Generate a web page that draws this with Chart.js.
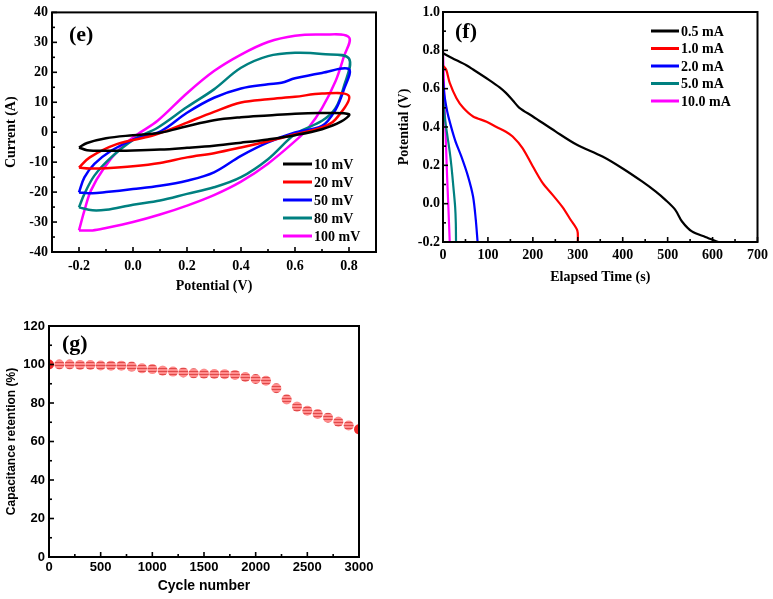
<!DOCTYPE html>
<html>
<head>
<meta charset="utf-8">
<script src="https://cdn.jsdelivr.net/npm/chart.js@4.4.1/dist/chart.umd.min.js"></script>
<style>
  html, body { margin: 0; padding: 0; background: #fff; }
  #wrap { position: relative; width: 773px; height: 599px; }
  canvas { position: absolute; }
</style>
</head>
<body>
<div id="wrap">
  <canvas id="cv" width="390" height="300" style="left:0;top:0"></canvas>
  <canvas id="gcd" width="383" height="300" style="left:390px;top:0"></canvas>
  <canvas id="cyc" width="390" height="299" style="left:0;top:300px"></canvas>
</div>
<script>
// (e) cyclic voltammetry loops: [potential V, current A]
const cvLabels = ['10 mV', '20 mV', '50 mV', '80 mV', '100 mV'];
const cv10 = [[-0.2,-5.1],[-0.17,-3.6],[-0.1,-2.0],[0,-1.0],[0.1,-0.2],[0.2,2.0],[0.3,4.0],[0.4,5.0],[0.5,5.6],[0.6,6.2],[0.7,6.4],[0.8,6.0],
  [0.77,3.5],[0.7,1.0],[0.6,-1.0],[0.5,-2.4],[0.4,-3.5],[0.3,-4.5],[0.2,-5.2],[0.1,-5.8],[0,-6.1],[-0.1,-6.2],[-0.17,-6.0],[-0.2,-5.1]];
const cv20 = [[-0.2,-11.8],[-0.16,-8.4],[-0.06,-4.0],[0.07,-1.2],[0.14,1.0],[0.2,3.2],[0.3,6.8],[0.4,9.9],[0.5,11.0],[0.6,11.8],[0.7,12.9],[0.8,12.1],
  [0.75,4.3],[0.7,1.6],[0.6,-0.7],[0.5,-3.0],[0.4,-5.1],[0.3,-7.0],[0.2,-8.4],[0.1,-10.3],[0,-11.4],[-0.1,-12.0],[-0.16,-12.1],[-0.2,-11.8]];
const cv50 = [[-0.2,-20.1],[-0.18,-15.1],[-0.143,-10.6],[-0.081,-6.2],[0.005,-2.3],[0.104,0.4],[0.2,6.5],[0.3,11.5],[0.4,14.6],[0.5,16.0],[0.55,16.5],[0.6,18.0],[0.7,19.8],[0.8,21.0],
  [0.78,14.0],[0.75,7.5],[0.7,2.1],[0.6,-0.1],[0.5,-3.4],[0.4,-7.9],[0.3,-13.4],[0.2,-16.2],[0.1,-17.9],[0,-19.0],[-0.1,-20.0],[-0.15,-20.4],[-0.2,-20.1]];
const cv80 = [[-0.2,-25.1],[-0.18,-20.6],[-0.143,-14.5],[-0.081,-8.4],[0.005,-2.3],[0.091,1.5],[0.2,8.4],[0.3,14.3],[0.4,21.5],[0.5,25.4],[0.6,26.5],[0.7,26.1],[0.8,24.6],
  [0.78,15.0],[0.75,8.0],[0.7,3.8],[0.6,-0.7],[0.5,-9.0],[0.4,-15.0],[0.3,-18.4],[0.2,-20.6],[0.1,-22.8],[0,-24.2],[-0.1,-25.9],[-0.15,-26.1],[-0.2,-25.1]];
const cv100 = [[-0.2,-32.8],[-0.18,-26.2],[-0.156,-19.5],[-0.106,-11.8],[-0.044,-5.1],[0.017,-0.7],[0.091,3.8],[0.2,13.0],[0.3,20.4],[0.4,25.9],[0.5,30.1],[0.6,32.2],[0.7,32.6],[0.8,31.7],
  [0.78,25.0],[0.75,17.0],[0.7,8.0],[0.65,1.5],[0.6,-3.0],[0.5,-10.5],[0.4,-16.5],[0.3,-21.0],[0.2,-24.5],[0.1,-27.5],[0,-30.0],[-0.1,-32.0],[-0.15,-32.8],[-0.2,-32.8]];
const cvXTicks = [-0.2, 0, 0.2, 0.4, 0.6, 0.8];

// (f) discharge curves: [time s, potential V]
const gcdLabels = ['0.5 mA', '1.0 mA', '2.0 mA', '5.0 mA', '10.0 mA'];
const gcd05 = [[0,0.785],[20,0.76],[52,0.722],[67,0.70],[103,0.645],[126,0.607],[140,0.578],[155,0.54],[170,0.50],[200,0.455],[251,0.376],[296,0.31],
  [355,0.246],[399,0.185],[443,0.116],[473,0.064],[495,0.02],[517,-0.032],[532,-0.093],[554,-0.145],[584,-0.174],[613,-0.2]];
const gcd10 = [[0,0.72],[7,0.70],[15,0.63],[30,0.55],[45,0.50],[67,0.455],[97,0.428],[119,0.40],[140,0.375],[155,0.35],[177,0.29],[200,0.194],
  [222,0.107],[244,0.046],[266,-0.018],[284,-0.084],[299,-0.141],[300,-0.2]];
const gcd20 = [[0,0.65],[3,0.57],[7,0.51],[12,0.454],[27,0.33],[41,0.245],[56,0.14],[67,0.036],[73,-0.085],[77,-0.2]];
const gcd50 = [[0,0.62],[2,0.5],[5,0.43],[10,0.35],[15,0.27],[19,0.19],[23,0.09],[27,-0.016],[28.5,-0.1],[29,-0.2]];
const gcd100 = [[0,0.8],[3,0.55],[6,0.35],[9,0.15],[12,-0.02],[15,-0.2]];

// (g) cycling stability
const cycles = [0,100,200,300,400,500,600,700,800,900,1000,1100,1200,1300,1400,1500,1600,1700,1800,1900,2000,
  2100,2200,2300,2400,2500,2600,2700,2800,2900,3000];
const retention = [100,100,100,99.8,99.7,99.5,99.4,99.4,98.9,98.0,97.6,96.8,96.3,95.9,95.4,95.2,95.1,95.0,94.6,93.5,92.5,
  91.6,87.7,81.9,78.1,76.0,74.3,72.4,70.3,68.3,66.3];

const colors = ['#000000', '#ff0000', '#0000ff', '#008080', '#ff00ff'];
const SERIF = '"Liberation Serif", "Times New Roman", serif';
const SANS = '"Liberation Sans", Arial, sans-serif';

Chart.defaults.color = '#000';
Chart.defaults.animation = false;

const pts = arr => arr.map(p => ({ x: p[0], y: p[1] }));
const fix1 = v => (Math.abs(v) < 1e-9 ? 0 : v).toFixed(1);

// box, inward ticks, panel tag and line legend
const decor = {
  id: 'decor',
  afterDraw(chart, args, o) {
    const { ctx, chartArea: a, scales } = chart;
    ctx.save();
    ctx.strokeStyle = '#000';
    ctx.lineWidth = 2;
    ctx.strokeRect(a.left, a.top, a.right - a.left, a.bottom - a.top);
    ctx.lineWidth = 1.6;
    for (const id of ['x', 'y']) {
      const s = scales[id], t = o[id];
      const n = Math.round((s.max - s.min) / t.minor);
      for (let i = 0; i <= n; i++) {
        const v = s.min + i * t.minor;
        const r = v / t.major;
        const len = Math.abs(r - Math.round(r)) < 1e-6 ? 5 : 3;
        const p = s.getPixelForValue(v);
        ctx.beginPath();
        if (id === 'x') { ctx.moveTo(p, a.bottom); ctx.lineTo(p, a.bottom - len); }
        else { ctx.moveTo(a.left, p); ctx.lineTo(a.left + len, p); }
        ctx.stroke();
      }
    }
    ctx.fillStyle = '#000';
    ctx.font = 'bold 22px ' + SERIF;
    ctx.textBaseline = 'middle';
    ctx.fillText(o.tag.text, o.tag.x, o.tag.y);
    if (o.legend) {
      const L = o.legend;
      ctx.font = 'bold 14px ' + SERIF;
      chart.data.datasets.forEach((d, i) => {
        const y = L.y + i * L.gap;
        ctx.strokeStyle = d.borderColor;
        ctx.lineWidth = 3;
        ctx.beginPath();
        ctx.moveTo(L.x, y);
        ctx.lineTo(L.x + L.len, y);
        ctx.stroke();
        ctx.fillText(d.label, L.x + L.len + 2, y + 1);
      });
    }
    ctx.restore();
  }
};

function axis(font, size, title, tSize, tPad, fit, extra) {
  const ticks = Object.assign({ font: { family: font, size: size, weight: 'bold' }, padding: 5 }, extra.ticks);
  return Object.assign({
    type: 'linear',
    grid: { display: false, drawTicks: false },
    border: { display: false },
    title: { display: true, text: title, font: { family: font, size: tSize, weight: 'bold' }, padding: tPad },
    afterFit: fit
  }, extra, { ticks });
}

// (e)
new Chart(document.getElementById('cv'), {
  type: 'scatter',
  data: {
    datasets: [cv10, cv20, cv50, cv80, cv100].map((d, i) => ({
      label: cvLabels[i], data: pts(d), showLine: true, borderColor: colors[i],
      borderWidth: 2.5, pointRadius: 0, tension: 0.35
    }))
  },
  options: {
    responsive: false,
    layout: { padding: { left: 0, top: 11, right: 14, bottom: 0 } },
    plugins: {
      legend: { display: false }, tooltip: { enabled: false },
      decor: { x: { minor: 0.1, major: 0.2 }, y: { minor: 5, major: 10 },
        tag: { text: '(e)', x: 69, y: 35 },
        legend: { x: 283, y: 164, gap: 18, len: 29 } }
    },
    scales: {
      x: axis(SERIF, 14, 'Potential (V)', 14, { top: 0, bottom: 5 }, s => { s.height = 48; }, {
        min: -0.3, max: 0.9,
        afterBuildTicks: s => { s.ticks = cvXTicks.map(v => ({ value: v })); },
        ticks: { padding: 6, callback: fix1 }
      }),
      y: axis(SERIF, 14, 'Current (A)', 14, { top: 3, bottom: 0 }, s => { s.width = 52; }, {
        min: -40, max: 40,
        ticks: { padding: 4, stepSize: 10 }
      })
    }
  },
  plugins: [decor]
});

// (f)
new Chart(document.getElementById('gcd'), {
  type: 'scatter',
  data: {
    datasets: [gcd05, gcd10, gcd20, gcd50, gcd100].map((d, i) => ({
      label: gcdLabels[i], data: pts(d), showLine: true, borderColor: colors[i],
      borderWidth: 2.2, pointRadius: 0, tension: 0.3
    }))
  },
  options: {
    responsive: false,
    layout: { padding: { left: 0, top: 12, right: 14, bottom: 0 } },
    plugins: {
      legend: { display: false }, tooltip: { enabled: false },
      decor: { x: { minor: 50, major: 100 }, y: { minor: 0.1, major: 0.2 },
        tag: { text: '(f)', x: 65, y: 32 },
        legend: { x: 261, y: 31, gap: 17.5, len: 28 } }
    },
    scales: {
      x: axis(SERIF, 14, 'Elapsed Time (s)', 14, { top: 0, bottom: 14 }, s => { s.height = 58; }, {
        min: 0, max: 700,
        ticks: { padding: 5, stepSize: 100 }
      }),
      y: axis(SERIF, 14, 'Potential (V)', 14, { top: 6, bottom: 0 }, s => { s.width = 53; }, {
        min: -0.2, max: 1.0,
        ticks: { padding: 3, stepSize: 0.2, callback: fix1 }
      })
    }
  },
  plugins: [decor]
});

// (g)
function stripes() {
  const c = document.createElement('canvas');
  c.width = 4; c.height = 3;
  const g = c.getContext('2d');
  g.fillStyle = '#ff8c8c'; g.fillRect(0, 0, 4, 3);
  g.fillStyle = '#e04a4a'; g.fillRect(0, 2, 4, 1);
  return g.createPattern(c, 'repeat');
}
const hatch = stripes();
new Chart(document.getElementById('cyc'), {
  type: 'scatter',
  data: {
    datasets: [{
      label: 'retention',
      data: cycles.map((c, i) => ({ x: c, y: retention[i] })),
      pointRadius: 5,
      pointBorderWidth: 0,
      pointBackgroundColor: cycles.map((c, i) => (i === 0 || i === cycles.length - 1) ? '#ee2a2a' : hatch),
      clip: 0
    }]
  },
  options: {
    responsive: false,
    layout: { padding: { left: 0, top: 26, right: 31, bottom: 0 } },
    plugins: {
      legend: { display: false }, tooltip: { enabled: false },
      decor: { x: { minor: 250, major: 500 }, y: { minor: 10, major: 20 },
        tag: { text: '(g)', x: 62, y: 44 } }
    },
    scales: {
      x: axis(SANS, 13, 'Cycle number', 14, { top: 0, bottom: 4 }, s => { s.height = 42; }, {
        min: 0, max: 3000,
        ticks: { padding: 3, stepSize: 500, callback: v => String(v) }
      }),
      y: axis(SANS, 13, 'Capacitance retention (%)', 12, { top: 4, bottom: 0 }, s => { s.width = 49; }, {
        min: 0, max: 120,
        ticks: { padding: 4, stepSize: 20 }
      })
    }
  },
  plugins: [decor]
});
</script>
</body>
</html>
